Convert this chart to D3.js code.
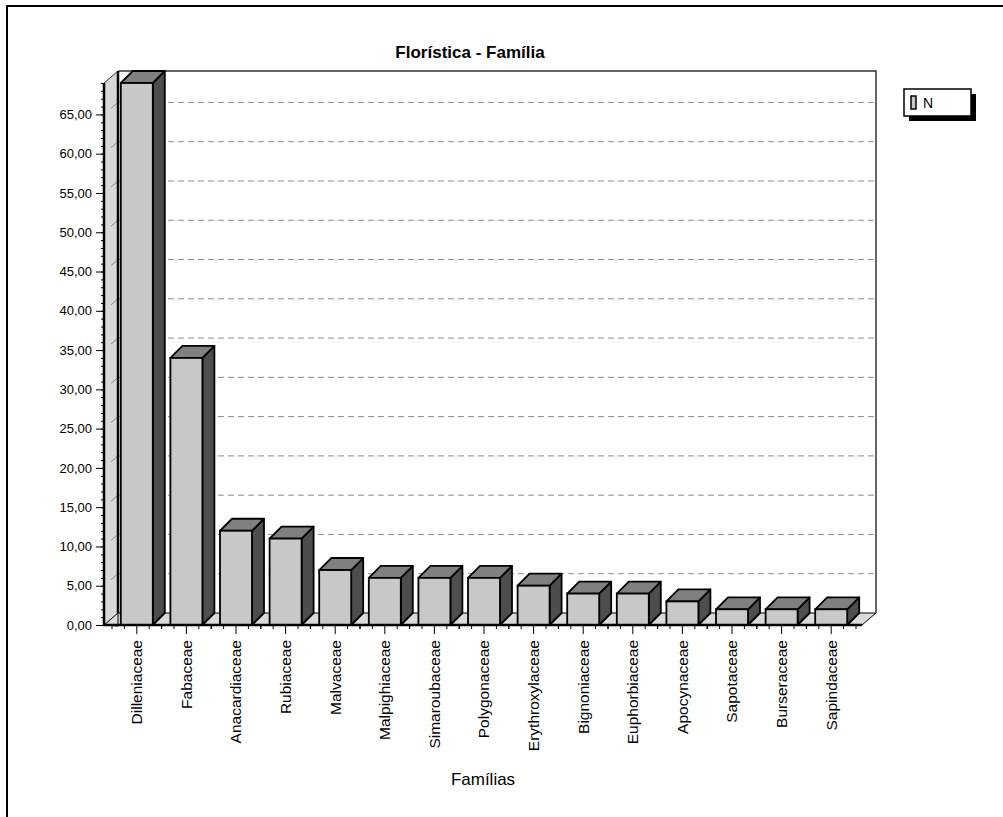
<!DOCTYPE html>
<html>
<head>
<meta charset="utf-8">
<script src="https://cdn.jsdelivr.net/npm/d3@7"></script>
<style>
  body { margin: 0; background: #fff; }
  text { font-family: Arial, "Liberation Sans", sans-serif; }
</style>
</head>
<body>
<svg id="chart" width="1003" height="817"></svg>
<script>
// DATA
var familias = ['Dilleniaceae', 'Fabaceae', 'Anacardiaceae', 'Rubiaceae', 'Malvaceae',
                'Malpighiaceae', 'Simaroubaceae', 'Polygonaceae', 'Erythroxylaceae', 'Bignoniaceae',
                'Euphorbiaceae', 'Apocynaceae', 'Sapotaceae', 'Burseraceae', 'Sapindaceae'];
var valoresN = [69, 34, 12, 11, 7, 6, 6, 6, 5, 4, 4, 3, 2, 2, 2];
var yTicks = [0, 5, 10, 15, 20, 25, 30, 35, 40, 45, 50, 55, 60, 65];
var titulo = 'Florística - Família';
var tituloX = 'Famílias';
var serieNome = 'N';

var svg = d3.select('#chart');

// Layout
var left = 104, right = 862, y0 = 625;
var wdx = 14, wdy = 12;      // wall depth
var bdx = 12, bdy = 12;      // bar depth

var x = d3.scaleBand()
          .domain(familias)
          .range([112, 856])
          .paddingInner(0.355)
          .paddingOuter(0.1775);
var y = d3.scaleLinear()
          .domain([0, 69])
          .range([y0, 83]);
var yTop = y.range()[1];

// Outer frame
svg.append('line').attr('x1', 6).attr('x2', 1003).attr('y1', 6).attr('y2', 6)
   .style('stroke', '#000').style('stroke-width', 2);
svg.append('line').attr('x1', 7).attr('x2', 7).attr('y1', 5).attr('y2', 817)
   .style('stroke', '#000').style('stroke-width', 2);

// Title
svg.append('text')
   .attr('x', 470).attr('y', 58)
   .attr('text-anchor', 'middle')
   .style('font-size', '17px').style('font-weight', 'bold')
   .text(titulo);

// Floor
svg.append('path')
   .attr('d', 'M' + left + ',' + y0 + 'L' + (left + wdx) + ',' + (y0 - wdy) +
              'L' + (right + wdx) + ',' + (y0 - wdy) + 'L' + right + ',' + y0 + 'Z')
   .style('fill', '#dadada').style('stroke', '#000').style('stroke-width', 1);

// Grid lines on back wall
svg.selectAll('line.grid')
   .data(yTicks.filter(function(d) { return d > 0; }))
   .enter().append('line')
   .attr('class', 'grid')
   .attr('x1', left + wdx).attr('x2', right + wdx)
   .attr('y1', function(d) { return y(d) - wdy; })
   .attr('y2', function(d) { return y(d) - wdy; })
   .style('stroke', '#8c8c8c').style('stroke-width', 1)
   .style('stroke-dasharray', '6,4');

// Back wall frame
svg.append('path')
   .attr('d', 'M' + (left + wdx) + ',' + (y0 - wdy) + 'V' + (yTop - wdy) + 'H' + (right + wdx) + 'V' + (y0 - wdy))
   .style('fill', 'none').style('stroke', '#333').style('stroke-width', 1.5);

// Left wall
svg.append('rect')
   .attr('class', 'wall')
   .attr('x', left).attr('y', yTop - wdy)
   .attr('width', wdx).attr('height', y0 - yTop + wdy)
   .style('fill', '#d8d8d8');
svg.append('path')
   .attr('d', 'M' + left + ',' + (yTop - wdy - 1) + 'H' + (left + wdx + 1) + 'L' + left + ',' + yTop + 'Z')
   .style('fill', '#fff');
svg.append('path')
   .attr('d', 'M' + left + ',' + y0 + 'L' + (left + wdx) + ',' + (y0 - wdy) + 'V' + (y0 + 1) + 'Z')
   .style('fill', '#dadada').style('stroke', '#000').style('stroke-width', 1);

// Grid diagonals on left wall
svg.selectAll('line.gridWall')
   .data(yTicks.filter(function(d) { return d > 0; }))
   .enter().append('line')
   .attr('class', 'gridWall')
   .attr('x1', left + 7).attr('x2', left + wdx)
   .attr('y1', function(d) { return y(d) - 6; })
   .attr('y2', function(d) { return y(d) - wdy; })
   .style('stroke', '#888').style('stroke-width', 1);

svg.append('line')
   .attr('x1', left).attr('y1', yTop).attr('x2', left + wdx).attr('y2', yTop - wdy)
   .style('stroke', '#333').style('stroke-width', 1);
svg.append('line')
   .attr('x1', left + wdx).attr('y1', yTop - wdy).attr('x2', left + wdx).attr('y2', y0 - wdy)
   .style('stroke', '#000').style('stroke-width', 2.5);

// Bars
var bw = x.bandwidth();
var bars = svg.selectAll('g.bar')
              .data(familias)
              .enter().append('g')
              .attr('class', 'bar');

bars.append('polygon')   // side
    .attr('points', function(d, i) {
        var bx = x(d) + bw, yt = y(valoresN[i]);
        return [[bx, yt], [bx + bdx, yt - bdy], [bx + bdx, y0 - bdy], [bx, y0]].join(' ');
    })
    .style('fill', '#4d4d4d').style('stroke', '#000').style('stroke-width', 1.8)
    .style('stroke-linejoin', 'round');
bars.append('polygon')   // top
    .attr('points', function(d, i) {
        var bx = x(d), yt = y(valoresN[i]);
        return [[bx, yt], [bx + bdx, yt - bdy], [bx + bw + bdx, yt - bdy], [bx + bw, yt]].join(' ');
    })
    .style('fill', '#808080').style('stroke', '#000').style('stroke-width', 1.8)
    .style('stroke-linejoin', 'round');
bars.append('rect')      // front
    .attr('x', function(d) { return x(d); })
    .attr('y', function(d, i) { return y(valoresN[i]); })
    .attr('width', bw)
    .attr('height', function(d, i) { return y0 - y(valoresN[i]); })
    .style('fill', '#c8c8c8').style('stroke', '#000').style('stroke-width', 1.8);

// Y axis
svg.append('g')
   .attr('transform', 'translate(' + left + ',0)')
   .call(d3.axisLeft(y).tickValues(d3.range(0, 70, 1)).tickSize(3).tickFormat(''))
   .call(function(g) { g.select('.domain').remove(); });
svg.append('g')
   .attr('transform', 'translate(' + left + ',0)')
   .call(d3.axisLeft(y).tickValues(yTicks).tickSize(8).tickPadding(4)
          .tickFormat(function(d) { return d3.format('.2f')(d).replace('.', ','); }))
   .call(function(g) {
       g.select('.domain').remove();
       g.selectAll('text').style('font-size', '13px').style('fill', '#000')
        .style('font-family', 'Arial, "Liberation Sans", sans-serif');
   });
svg.append('line')
   .attr('x1', left).attr('x2', left).attr('y1', yTop).attr('y2', y0 + 1)
   .style('stroke', '#000').style('stroke-width', 2.5);

// X axis
var minor = [];
familias.forEach(function(d) {
    var c = x(d) + bw / 2, s = x.step() / 4;
    [-2, -1, 1, 2].forEach(function(k) { minor.push(c + k * s); });
});
svg.selectAll('line.xminor')
   .data(minor)
   .enter().append('line')
   .attr('class', 'xminor')
   .attr('x1', function(d) { return d; }).attr('x2', function(d) { return d; })
   .attr('y1', y0).attr('y2', y0 + 4)
   .style('stroke', '#000');
svg.append('g')
   .attr('transform', 'translate(0,' + y0 + ')')
   .call(d3.axisBottom(x).tickSize(9).tickPadding(6))
   .call(function(g) {
       g.select('.domain').remove();
       g.selectAll('text')
        .attr('transform', 'rotate(-90)')
        .attr('x', -15).attr('y', 0).attr('dy', '0.35em')
        .style('text-anchor', 'end')
        .style('font-size', '15.5px').style('fill', '#000')
        .style('font-family', 'Arial, "Liberation Sans", sans-serif');
   });
svg.append('line')
   .attr('x1', left - 1).attr('x2', right).attr('y1', y0).attr('y2', y0)
   .style('stroke', '#000').style('stroke-width', 2.5);

svg.append('text')
   .attr('x', 483).attr('y', 785)
   .attr('text-anchor', 'middle')
   .style('font-size', '17px')
   .text(tituloX);

// Legend
var lg = svg.append('g').attr('transform', 'translate(904,89)');
lg.append('rect').attr('x', 5).attr('y', 5).attr('width', 67).attr('height', 27).style('fill', '#000');
lg.append('rect').attr('x', 0).attr('y', 0).attr('width', 67).attr('height', 27)
  .style('fill', '#fff').style('stroke', '#000').style('stroke-width', 1.5);
lg.append('rect').attr('x', 7).attr('y', 7).attr('width', 5).attr('height', 13)
  .style('fill', '#c8c8c8').style('stroke', '#000').style('stroke-width', 1.5);
lg.append('text').attr('x', 19).attr('y', 19).style('font-size', '14px').style('fill', '#000').text(serieNome);
</script>
</body>
</html>
